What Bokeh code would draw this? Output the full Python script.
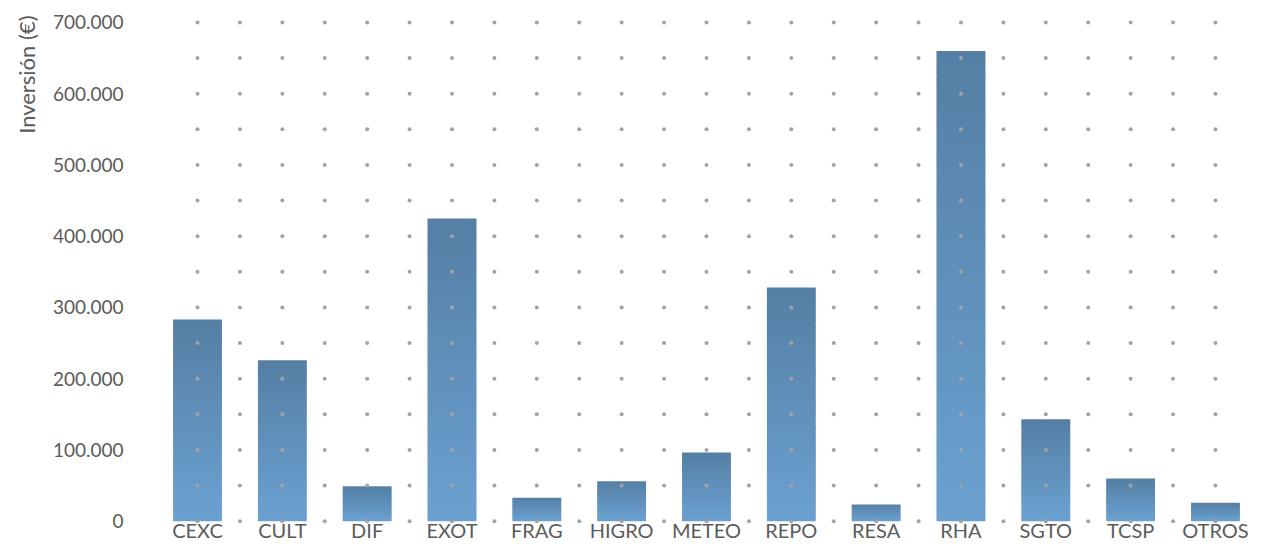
import numpy as np
from bokeh.plotting import figure
from bokeh.models import ColumnDataSource, Range1d, FixedTicker, Title
from bokeh.core.properties import value
from bokeh.embed import file_html
from bokeh.resources import INLINE

categories = ["CEXC", "CULT", "DIF", "EXOT", "FRAG", "HIGRO", "METEO",
              "REPO", "RESA", "RHA", "SGTO", "TCSP", "OTROS"]
values = [283000, 226000, 49000, 425000, 33000, 56000, 96500,
          328000, 23500, 660000, 143000, 60000, 26000]
y_ticks = [0, 100000, 200000, 300000, 400000, 500000, 600000, 700000]
y_tick_labels = ["0", "100.000", "200.000", "300.000", "400.000",
                 "500.000", "600.000", "700.000"]
y_title = "Inversión (€)"

FONT = "Lato"
TEXT = "#5b5b5b"
TOP = np.array([85, 127, 164])
BOTTOM = np.array([107, 161, 209])

W, H = 1250, 541
LEFT, TOPB = 150, 12
Y_START, Y_END = -28500, 714000
LABEL_Y = -13000
p = figure(width=W, height=H, output_backend="svg", toolbar_location=None,
           x_range=Range1d(-0.554, 12.413), y_range=Range1d(Y_START, Y_END),
           min_border_left=LEFT, min_border_right=0, min_border_top=TOPB,
           min_border_bottom=0)
p.outline_line_color = None
p.xgrid.visible = False
p.ygrid.visible = False

# bars with vertical gradient (dark top, light bottom)
STEP = 4000.0
xs, bots, tops, cols = [], [], [], []
for i, v in enumerate(values):
    n = max(1, int(np.ceil(v / STEP)))
    h = v / n
    for k in range(n):
        t = (k + 0.5) / n
        c = BOTTOM + (TOP - BOTTOM) * t
        xs.append(i)
        bots.append(h * k)
        tops.append(min(v, h * (k + 1.5)))
        cols.append("#%02x%02x%02x" % tuple(int(round(q)) for q in c))
src = ColumnDataSource(dict(x=xs, bottom=bots, top=tops, color=cols))
p.vbar(x="x", bottom="bottom", top="top", width=0.575, source=src,
       fill_color="color", line_color=None)

# dotted grid drawn over the bars
gx = np.arange(0, len(categories) - 0.99, 0.5)
gy = np.arange(0, y_ticks[-1] + 1, 50000)
GX, GY = np.meshgrid(gx, gy)
p.scatter(GX.ravel(), GY.ravel(), size=4, color="#a3a3a3", line_color=None)

# category labels along the bottom of the plot area
lab_src = ColumnDataSource(dict(x=list(range(len(categories))),
                                y=[LABEL_Y] * len(categories),
                                text=categories))
p.text(x="x", y="y", text="text", source=lab_src, text_font=value(FONT),
       text_font_size="20px", text_color=TEXT, text_align="center",
       text_baseline="middle", text_line_height=1.0)
p.xaxis.visible = False

# y axis
p.yaxis.ticker = FixedTicker(ticks=y_ticks)
p.yaxis.major_label_overrides = {t: l for t, l in zip(y_ticks, y_tick_labels)}
p.yaxis.axis_line_color = None
p.yaxis.major_tick_line_color = None
p.yaxis.minor_tick_line_color = None
p.yaxis.major_tick_out = 0
p.yaxis.major_tick_in = 0
p.yaxis.major_label_text_font = FONT
p.yaxis.major_label_text_color = TEXT
p.yaxis.major_label_text_font_size = "19px"
p.yaxis.major_label_standoff = 27

# y axis title (rotated, aligned to the top)
p.add_layout(Title(text=y_title, align="right", text_font=FONT,
                   text_font_style="normal", text_font_size="22px",
                   text_color=TEXT, standoff=20, offset=3), "left")

open("out.html", "w").write(file_html(p, INLINE))
